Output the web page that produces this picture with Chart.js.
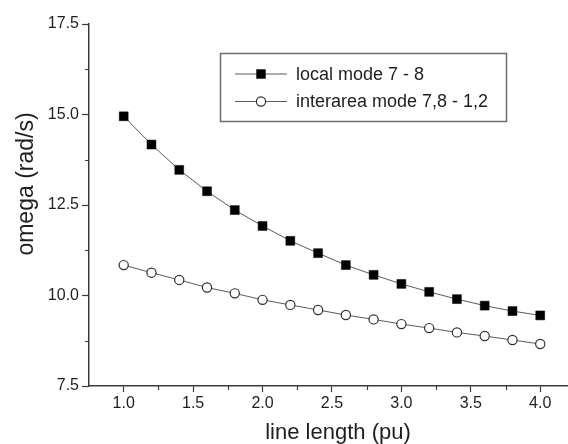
<!DOCTYPE html>
<html>
<head>
<meta charset="utf-8">
<title>omega vs line length</title>
<script src="https://cdn.jsdelivr.net/npm/chart.js@4.4.0/dist/chart.umd.min.js"></script>
<style>
    html, body { margin: 0; padding: 0; background: #ffffff; }
    #the-graph { display: block; }
</style>
</head>
<body>
<canvas id="the-graph" width="568" height="444"></canvas>
<script>
/*
 *  Data
 */

let lineLength = [1.0, 1.2, 1.4, 1.6, 1.8, 2.0, 2.2, 2.4, 2.6, 2.8, 3.0, 3.2, 3.4, 3.6, 3.8, 4.0];
let localMode = [14.95, 14.17, 13.47, 12.88, 12.36, 11.92, 11.51, 11.17, 10.84, 10.57, 10.32, 10.10, 9.90, 9.72, 9.57, 9.45];
let interareaMode = [10.84, 10.63, 10.43, 10.22, 10.06, 9.88, 9.74, 9.60, 9.46, 9.34, 9.21, 9.10, 8.98, 8.88, 8.77, 8.66];
let seriesNames = ['local mode 7 - 8', 'interarea mode 7,8 - 1,2'];

let xTicks = [1.0, 1.5, 2.0, 2.5, 3.0, 3.5, 4.0];
let yTicks = [7.5, 10.0, 12.5, 15.0, 17.5];
let xTitle = 'line length (pu)';
let yTitle = 'omega (rad/s)';

/*
 *  Styles
 */

let fontFamily = "'Liberation Sans', Arial, Helvetica, sans-serif";
let axisColor = '#3a3a3a';
let textColor = '#1e1e1e';
let lineColor = '#5a5a5a';

function pairs(xs, ys)
{
    return xs.map((x, i) => ({x: x, y: ys[i]}));
}

/*
 *  Plugins: minor ticks, axis titles, framed legend
 */

let minorTicks = {
    id: 'minorTicks',
    afterDraw(chart) {
        let ctx = chart.ctx, xs = chart.scales.x, ys = chart.scales.y;
        ctx.save();
        ctx.strokeStyle = axisColor;
        ctx.lineWidth = 1.2;
        ctx.beginPath();
        for (let i = 0; i < xTicks.length - 1; i++) {
            let px = Math.round(xs.getPixelForValue((xTicks[i] + xTicks[i + 1]) / 2)) + 0.5;
            ctx.moveTo(px, xs.top);
            ctx.lineTo(px, xs.top + 4);
        }
        for (let i = 0; i < yTicks.length - 1; i++) {
            let py = Math.round(ys.getPixelForValue((yTicks[i] + yTicks[i + 1]) / 2)) + 0.5;
            ctx.moveTo(ys.right, py);
            ctx.lineTo(ys.right - 4, py);
        }
        ctx.stroke();
        ctx.restore();
    }
};

let axisTitles = {
    id: 'axisTitles',
    afterDraw(chart) {
        let ctx = chart.ctx;
        ctx.save();
        ctx.fillStyle = textColor;
        ctx.font = '22px ' + fontFamily;
        ctx.textAlign = 'center';
        ctx.textBaseline = 'middle';
        ctx.fillText(xTitle, 338, 433);
        ctx.translate(27, 184);
        ctx.rotate(-Math.PI / 2);
        ctx.font = '23px ' + fontFamily;
        ctx.fillText(yTitle, 0, 0);
        ctx.restore();
    }
};

let boxLegend = {
    id: 'boxLegend',
    afterDraw(chart) {
        let ctx = chart.ctx;
        ctx.save();
        ctx.strokeStyle = '#6e6e6e';
        ctx.lineWidth = 1.5;
        ctx.strokeRect(220.5, 53.5, 286, 68);
        chart.data.datasets.forEach((ds, i) => {
            let y = 74 + i * 27.5;
            ctx.strokeStyle = lineColor;
            ctx.lineWidth = 1;
            ctx.beginPath();
            ctx.moveTo(235, y);
            ctx.lineTo(287, y);
            ctx.stroke();
            ctx.fillStyle = ds.pointBackgroundColor;
            ctx.strokeStyle = ds.pointBorderColor;
            ctx.lineWidth = ds.pointBorderWidth;
            Chart.helpers.drawPoint(ctx, {
                pointStyle: ds.pointStyle,
                radius: ds.pointRadius,
                rotation: 0,
                borderWidth: ds.pointBorderWidth
            }, 261, y);
            ctx.fillStyle = textColor;
            ctx.font = '18px ' + fontFamily;
            ctx.textAlign = 'left';
            ctx.textBaseline = 'middle';
            ctx.fillText(ds.label, 296, y + 1);
        });
        ctx.restore();
    }
};

/*
 *  Chart
 */

let content = document.getElementById('the-graph').getContext('2d');
let graph = new Chart(content, {
    type: 'line',
    data: {
        datasets: [
            {
                label: seriesNames[0],
                data: pairs(lineLength, localMode),
                borderColor: lineColor,
                borderWidth: 1,
                pointStyle: 'rect',
                pointRadius: 6.3,
                pointBackgroundColor: '#000000',
                pointBorderColor: '#000000',
                pointBorderWidth: 0.5,
                fill: false,
                tension: 0
            },
            {
                label: seriesNames[1],
                data: pairs(lineLength, interareaMode),
                borderColor: lineColor,
                borderWidth: 1,
                pointStyle: 'circle',
                pointRadius: 4.6,
                pointBackgroundColor: '#ffffff',
                pointBorderColor: '#2e2e2e',
                pointBorderWidth: 1.2,
                fill: false,
                tension: 0
            }
        ]
    },
    options: {
        responsive: false,
        animation: false,
        devicePixelRatio: 1,
        layout: {
            autoPadding: false,
            padding: { top: 24, right: 0, bottom: 0, left: 0 }
        },
        plugins: {
            legend: { display: false },
            tooltip: { enabled: false }
        },
        scales: {
            x: {
                type: 'linear',
                min: 0.75,
                max: 4.2,
                afterBuildTicks: (scale) => { scale.ticks = xTicks.map(v => ({value: v})); },
                afterFit: (scale) => {
                    scale.height = 58;
                    scale.paddingLeft = 0;
                    scale.paddingRight = 0;
                },
                ticks: {
                    callback: (v) => v.toFixed(1),
                    color: textColor,
                    font: { family: fontFamily, size: 16 },
                    padding: 2,
                    maxRotation: 0
                },
                grid: {
                    drawOnChartArea: false,
                    drawTicks: true,
                    tickLength: 6,
                    tickColor: axisColor,
                    tickWidth: 1.2
                },
                border: { display: true, color: axisColor, width: 1.5 }
            },
            y: {
                type: 'linear',
                min: 7.5,
                max: 17.5,
                afterBuildTicks: (scale) => { scale.ticks = yTicks.map(v => ({value: v})); },
                afterFit: (scale) => { scale.width = 89; },
                ticks: {
                    callback: (v) => v.toFixed(1),
                    color: textColor,
                    font: { family: fontFamily, size: 16 },
                    padding: 3
                },
                grid: {
                    drawOnChartArea: false,
                    drawTicks: true,
                    tickLength: 7,
                    tickColor: axisColor,
                    tickWidth: 1.2
                },
                border: { display: true, color: axisColor, width: 1.5 }
            }
        }
    },
    plugins: [minorTicks, axisTitles, boxLegend]
});
</script>
</body>
</html>
